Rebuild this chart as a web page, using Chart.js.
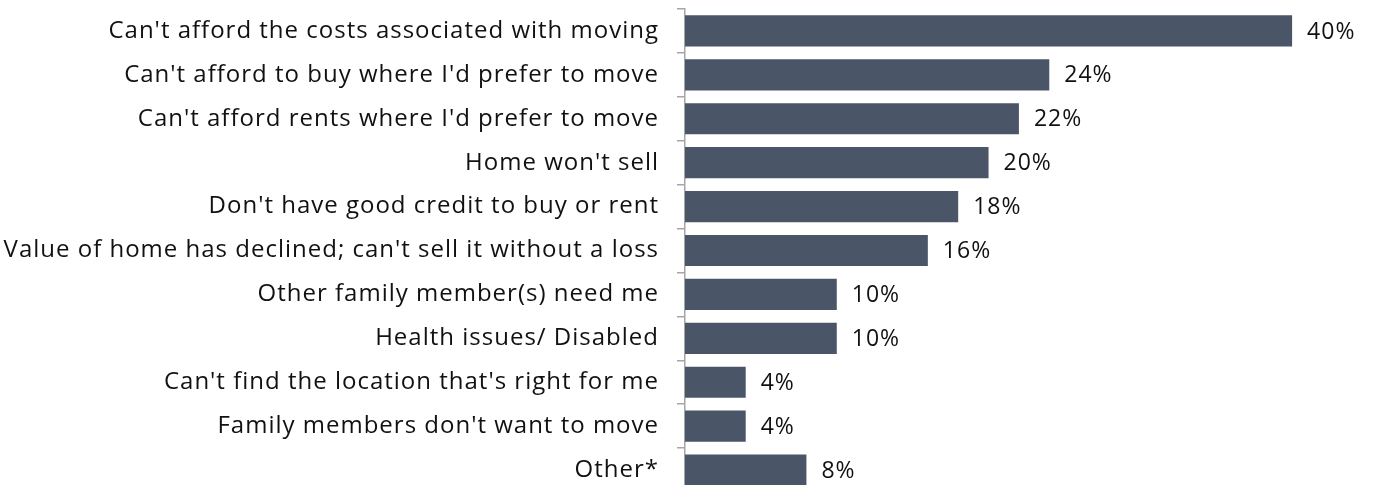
<!DOCTYPE html>
<html>
<head>
<meta charset="utf-8">
<script src="https://cdn.jsdelivr.net/npm/chart.js@4/dist/chart.umd.min.js"></script>
<style>
    html, body { margin: 0; padding: 0; background: #ffffff; overflow: hidden; }
    #wrap { width: 1374px; height: 492px; position: relative; }
</style>
</head>
<body>
<div id="wrap"><canvas id="chartCanvasId"></canvas></div>
<script>
"use strict";

const reasons = [
    "Can't afford the costs associated with moving",
    "Can't afford to buy where I'd prefer to move",
    "Can't afford rents where I'd prefer to move",
    "Home won't sell",
    "Don't have good credit to buy or rent",
    "Value of home has declined; can't sell it without a loss",
    "Other family member(s) need me",
    "Health issues/ Disabled",
    "Can't find the location that's right for me",
    "Family members don't want to move",
    "Other*",
];
const percents = [40, 24, 22, 20, 18, 16, 10, 10, 4, 4, 8];

const barColor = "#4a5667";
const textColor = "#111111";
const axisColor = "#a6a6a6";
const fontFamily = "'Open Sans', Lato, sans-serif";

// a little tracking so Open Sans runs about as wide as the original font
const tracking = {
    id: "tracking",
    beforeDraw(chart) {
        chart.ctx.letterSpacing = "1px";
    },
};

// draws the "40%" style labels just past the end of each bar
const valueLabels = {
    id: "valueLabels",
    afterDatasetsDraw(chart) {
        const ctx = chart.ctx;
        const meta = chart.getDatasetMeta(0);
        ctx.save();
        ctx.letterSpacing = "1px";
        ctx.font = "23px " + fontFamily;
        ctx.fillStyle = textColor;
        ctx.textAlign = "left";
        ctx.textBaseline = "middle";
        meta.data.forEach((bar, i) => {
            ctx.fillText(percents[i] + "%", bar.x + 15, bar.y + 1);
        });
        ctx.restore();
    },
};

const chartCanvas = document.getElementById("chartCanvasId");
const myChart = new Chart(chartCanvas.getContext("2d"), {
    type: "bar",
    data: {
        labels: reasons,
        datasets: [{
            data: percents,
            backgroundColor: barColor,
            borderWidth: 0,
            categoryPercentage: 1,
            barPercentage: 0.71,
        }],
    },
    options: {
        indexAxis: "y",
        responsive: true,
        maintainAspectRatio: false,
        animation: false,
        layout: { padding: { top: 9, right: 6, bottom: 0, left: 0 } },
        plugins: {
            legend: { display: false },
            tooltip: { enabled: false },
        },
        scales: {
            x: {
                display: false,
                min: 0,
                max: 45,
            },
            y: {
                afterFit(scale) {
                    scale.width = 685;
                    scale.paddingTop = 0;
                    scale.paddingBottom = 0;
                },
                grid: {
                    offset: true,
                    drawOnChartArea: false,
                    drawTicks: true,
                    tickLength: 8,
                    color: axisColor,
                    lineWidth: 1.5,
                },
                border: { display: true, color: axisColor, width: 1.5 },
                ticks: {
                    color: textColor,
                    padding: 18,
                    font: { size: 24, family: fontFamily },
                },
            },
        },
    },
    plugins: [tracking, valueLabels],
});
</script>
</body>
</html>
